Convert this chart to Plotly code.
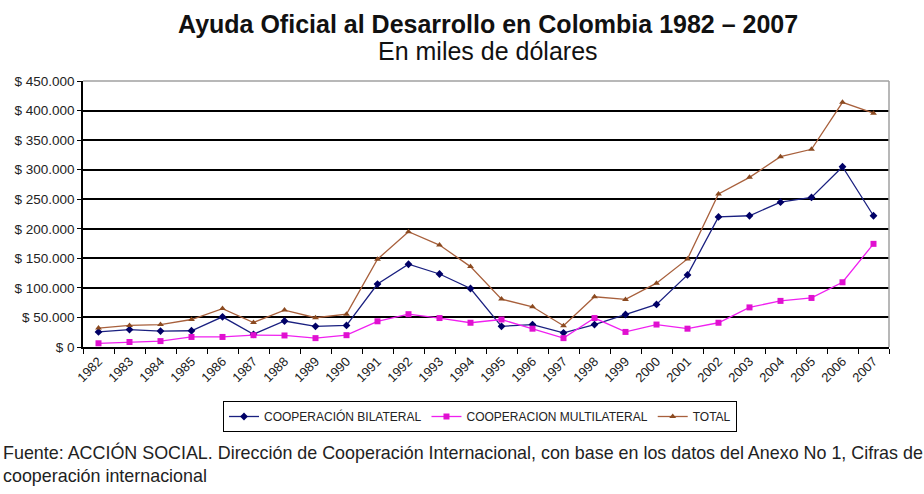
import plotly.graph_objects as go

# Años del periodo
years = [str(y) for y in range(1982, 2008)]

# Valores en miles de dólares
bilateral = [25500, 29500, 27000, 27500, 51000, 21500, 44000, 35000, 36500, 106500,
             140000, 123500, 99000, 35000, 38000, 24000, 38000, 55000, 72000, 122000,
             220000, 222000, 245000, 253000, 305000, 222000]
multilateral = [6300, 8500, 10000, 17000, 17000, 20000, 19500, 15000, 20000, 43500,
                55500, 49000, 41000, 46500, 31000, 15000, 49000, 25500, 38000, 31000,
                41000, 67000, 78000, 83000, 109500, 174500]
total = [32000, 36500, 38000, 46500, 65000, 41500, 62500, 49500, 55500, 148500,
         195000, 172500, 136000, 81000, 68000, 36000, 85000, 80500, 108000, 149000,
         259000, 287000, 322000, 334500, 414000, 395500]

y_ticks = list(range(0, 450001, 50000))
y_tick_labels = ["$ 0"] + ["$ {:,}".format(v).replace(",", ".") for v in y_ticks[1:]]

FONT = "Liberation Sans, Arial, sans-serif"
TEXT = "#222222"

fig = go.Figure()
fig.add_trace(go.Scatter(
    x=years, y=bilateral, name="COOPERACIÓN BILATERAL", mode="lines+markers",
    line=dict(color="#1A2080", width=1.3),
    marker=dict(symbol="diamond", size=6, color="#000066"),
))
fig.add_trace(go.Scatter(
    x=years, y=multilateral, name="COOPERACION MULTILATERAL", mode="lines+markers",
    line=dict(color="#F020F0", width=1.3),
    marker=dict(symbol="square", size=6, color="#E010D0"),
))
fig.add_trace(go.Scatter(
    x=years, y=total, name="TOTAL", mode="lines+markers",
    line=dict(color="#A8603C", width=1.3),
    marker=dict(symbol="triangle-up", size=6, color="#8B4A20"),
))

L, R, T, B = 83, 35, 81, 147
W, H = 924, 494
plot_w, plot_h = W - L - R, H - T - B


def px_x(x):
    return (x - L) / plot_w


def px_y(y):
    return (H - B - y) / plot_h


fig.update_layout(
    width=W, height=H,
    margin=dict(l=L, r=R, t=T, b=B),
    paper_bgcolor="white", plot_bgcolor="white",
    font=dict(family=FONT, size=12, color=TEXT),
    showlegend=True,
    legend=dict(
        orientation="h", x=px_x(480), xanchor="center", y=px_y(401), yanchor="top",
        bordercolor="#000000", borderwidth=1, bgcolor="white",
        font=dict(family=FONT, size=12, color=TEXT),
        itemwidth=30, tracegroupgap=0,
    ),
)

fig.add_annotation(text="<b>Ayuda Oficial al Desarrollo en Colombia 1982 – 2007</b>",
                   x=px_x(488), y=px_y(24), xref="paper", yref="paper", showarrow=False,
                   xanchor="center", yanchor="middle",
                   font=dict(family=FONT, size=25, color="#111111"))
fig.add_annotation(text="En miles de dólares",
                   x=px_x(488), y=px_y(51), xref="paper", yref="paper", showarrow=False,
                   xanchor="center", yanchor="middle",
                   font=dict(family=FONT, size=25, color="#111111"))
fig.add_annotation(text="Fuente: ACCIÓN SOCIAL. Dirección de Cooperación Internacional, con base en los datos del Anexo No 1, Cifras de<br>cooperación internacional",
                   x=px_x(1), y=px_y(440), xref="paper", yref="paper", showarrow=False,
                   xanchor="left", yanchor="top", align="left",
                   font=dict(family=FONT, size=17.9, color=TEXT))

fig.update_xaxes(
    type="category", range=[-0.5, 25.5],
    tickangle=-45, tickson="boundaries", ticks="outside", ticklen=5,
    tickcolor="#000000", showline=True, linecolor="#000000", linewidth=1.5,
    showgrid=False, tickfont=dict(family=FONT, size=13, color=TEXT),
)
fig.update_yaxes(
    range=[0, 450000], tickvals=y_ticks, ticktext=y_tick_labels,
    ticks="outside", ticklen=4, tickcolor="#000000",
    showline=True, linecolor="#000000", linewidth=1.5,
    showgrid=True, gridcolor="#000000", gridwidth=1.5,
    zeroline=False, tickfont=dict(family=FONT, size=13.5, color=TEXT),
)

# Borde gris del área de trazado (arriba y derecha)
fig.add_shape(type="line", xref="paper", yref="paper", x0=0, x1=1, y0=1, y1=1,
              line=dict(color="#A0A0A0", width=1.5))
fig.add_shape(type="line", xref="paper", yref="paper", x0=1, x1=1, y0=0, y1=1,
              line=dict(color="#A0A0A0", width=1.5))

fig.write_html("out.html")
